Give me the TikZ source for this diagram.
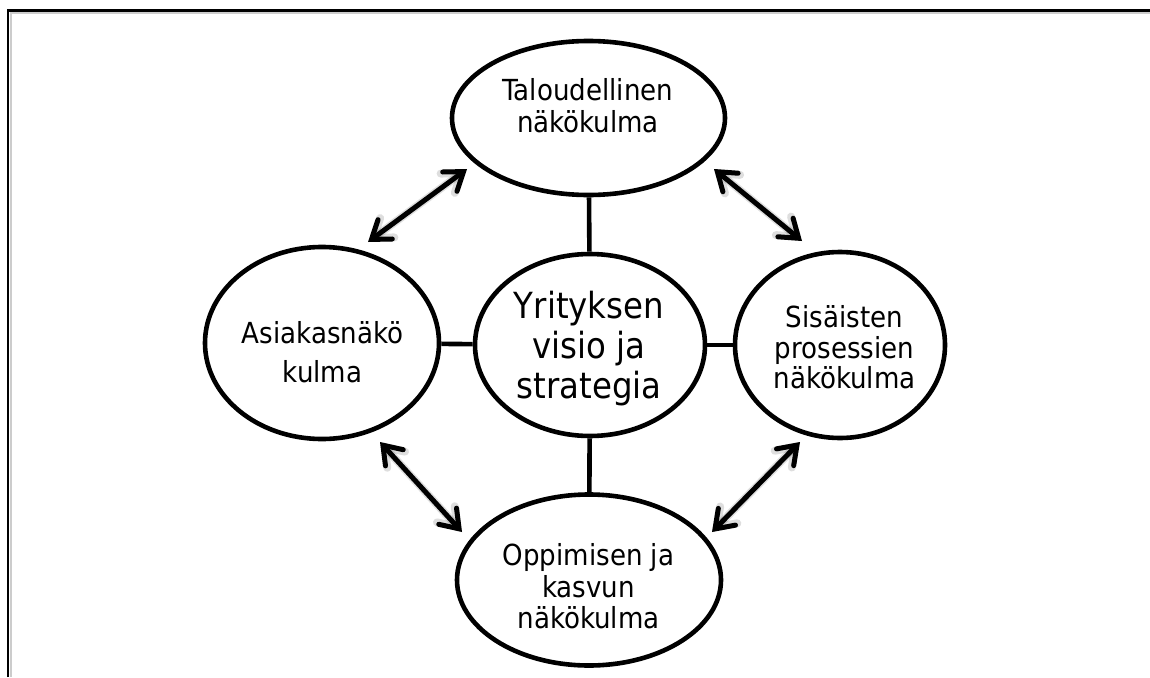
\documentclass[tikz,border=0pt]{standalone}
\usepackage{fontspec}
\setmainfont{DejaVu Sans Condensed}
\usetikzlibrary{shapes.geometric,arrows.meta}
\begin{document}
\begin{tikzpicture}[x=1pt,y=-1pt,
  ell/.style={draw=black, line width=4.6pt, ellipse, inner sep=0pt},
  txt/.style={anchor=base, inner sep=0pt, font=\fontsize{29}{32}\selectfont},
  bigtxt/.style={anchor=base, inner sep=0pt, font=\fontsize{36}{40}\selectfont},
  link/.style={line width=4.6pt},
  dbl/.style={line width=5pt, line cap=round, {Straight Barb[length=17pt,width=24pt,line cap=round]}-{Straight Barb[length=17pt,width=24pt,line cap=round]}},
  dblshadow/.style={line width=8pt, line cap=round, draw=black, opacity=0.13,
    {Straight Barb[length=17pt,width=24pt,line cap=round]}-{Straight Barb[length=17pt,width=24pt,line cap=round]}}
]
\useasboundingbox (0,0) rectangle (1150,677);
% frame
\draw[black!20, line width=2pt] (10.5,677) -- (10.5,13) -- (1150,13);
\draw[line width=2.4pt] (8,677) -- (8,10.5) -- (1150,10.5);

% ellipses
\node[ell, minimum width=273pt, minimum height=154pt] (top) at (588.5,118) {};
\node[ell, minimum width=234pt, minimum height=192pt] (left) at (322,343) {};
\node[ell, minimum width=230pt, minimum height=182pt] (center) at (590,345) {};
\node[ell, minimum width=210pt, minimum height=186pt] (right) at (840,345) {};
\node[ell, minimum width=264pt, minimum height=171pt] (bottom) at (589,580) {};

% texts
\node[txt] (t1) at (588,100) {Taloudellinen};
\node[txt] (t2) at (588,132) {näkökulma};
\node[bigtxt] (c1) at (589,318) {Yrityksen};
\node[bigtxt] (c2) at (589,358) {visio ja};
\node[bigtxt] (c3) at (589,398) {strategia};
\node[txt] (l1) at (322.5,343) {Asiakasnäkö};
\node[txt] (l2) at (322.5,382) {kulma};
\node[txt] (r1) at (844.5,327) {Sisäisten};
\node[txt] (r2) at (844.5,358) {prosessien};
\node[txt] (r3) at (844.5,388) {näkökulma};
\node[txt] (b1) at (588.5,565) {Oppimisen ja};
\node[txt] (b2) at (588.5,597) {kasvun};
\node[txt] (b3) at (588.5,628) {näkökulma};

% connectors
\draw[link] (top) -- (center);
\draw[link] (left) -- (center);
\draw[link] (right) -- (center);
\draw[link] (bottom) -- (center);

% arrow end points
\coordinate (a1s) at (368,242); \coordinate (a1e) at (467,169);
\coordinate (a2s) at (714,169); \coordinate (a2e) at (802,241);
\coordinate (a3s) at (380,442); \coordinate (a3e) at (462,532);
\coordinate (a4s) at (800,442); \coordinate (a4e) at (712,532);

% shadows
\begin{scope}[shift={(2.5,3.5)}]
\draw[dblshadow] (a1s) -- (a1e);
\draw[dblshadow] (a2s) -- (a2e);
\draw[dblshadow] (a3s) -- (a3e);
\draw[dblshadow] (a4s) -- (a4e);
\end{scope}

% arrows
\draw[dbl] (a1s) -- (a1e);
\draw[dbl] (a2s) -- (a2e);
\draw[dbl] (a3s) -- (a3e);
\draw[dbl] (a4s) -- (a4e);
\end{tikzpicture}
\end{document}
